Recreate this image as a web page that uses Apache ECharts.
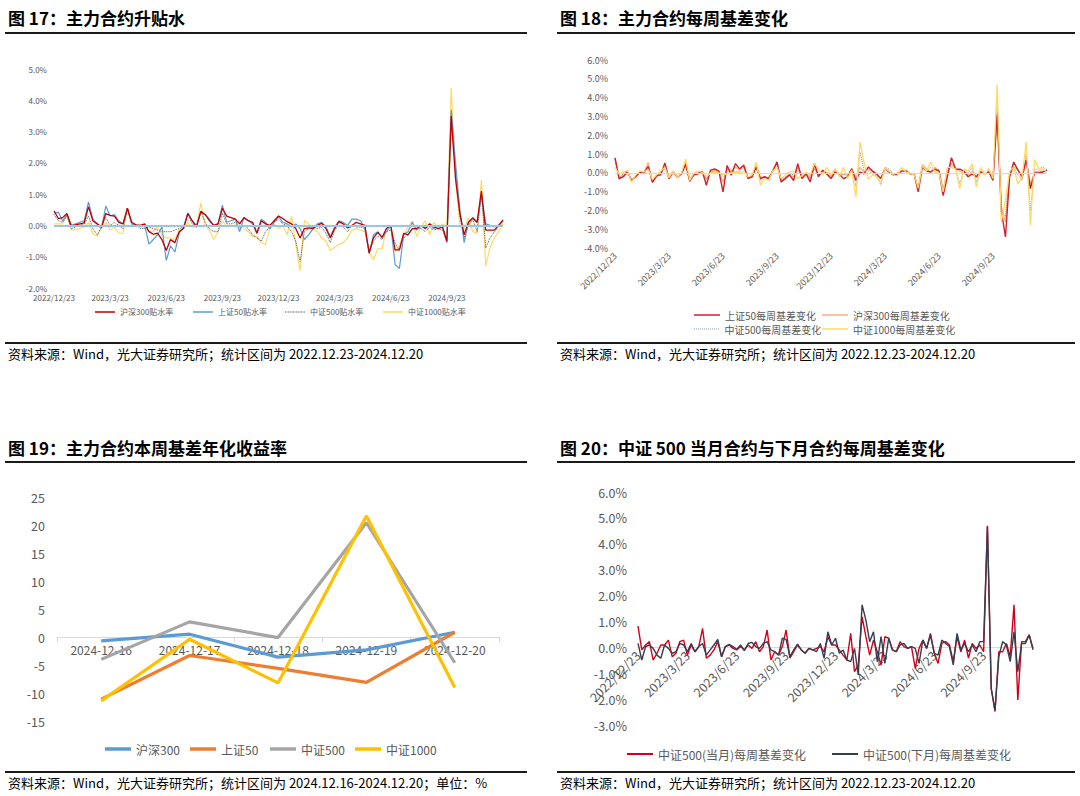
<!DOCTYPE html>
<html><head><meta charset="utf-8">
<script src="https://cdn.jsdelivr.net/npm/echarts@6/dist/echarts.min.js"></script>
<style>html,body{margin:0;padding:0;background:#fff}#c{width:1080px;height:796px}</style>
</head><body><div id="c"></div>
<script>
// ---------- categories ----------
const weeks = [];
for (let i = 0; i < 105; i++) {
  const d = new Date(Date.UTC(2022, 11, 23) + i * 7 * 86400000);
  weeks.push(d.getUTCFullYear() + '/' + (d.getUTCMonth() + 1) + '/' + d.getUTCDate());
}
const quarterTicks = ['2022/12/23','2023/3/23','2023/6/23','2023/9/23','2023/12/23','2024/3/23','2024/6/23','2024/9/23'];
const days19 = ['2024-12-16','2024-12-17','2024-12-18','2024-12-19','2024-12-20'];

// ---------- 图17 升贴水 (%) ----------
const prem_hs300 = [0.47,0.22,0.25,0.38,-0.02,0.02,0.05,0.08,0.60,0.15,
0.05,-0.05,0.38,0.32,0.30,0.10,0.05,0.55,0.10,0.02,
0.00,0.05,-0.20,-0.28,-0.25,-0.45,-0.80,-0.45,-0.55,-0.20,
-0.10,0.38,0.15,-0.05,0.45,0.35,0.15,0.00,0.05,0.55,
0.30,0.25,0.20,0.05,0.25,0.15,0.10,-0.25,0.15,0.05,
0.00,0.15,0.30,0.22,0.12,0.05,-0.10,-0.40,-0.10,-0.08,
-0.10,0.00,0.07,-0.10,-0.40,-0.10,0.12,0.05,-0.08,0.00,
0.10,0.05,0.00,-0.88,-0.40,-0.22,-0.38,-0.10,0.00,-0.78,
-0.78,-0.25,-0.30,-0.10,-0.10,0.00,-0.10,0.05,-0.05,-0.10,
-0.05,-0.50,3.50,1.50,0.40,-0.30,0.10,0.25,0.10,1.10,
-0.15,-0.15,-0.15,0.00,0.18];
const prem_sz50 = [0.40,0.42,0.15,0.35,0.00,0.05,0.10,0.15,0.75,0.20,
0.05,-0.10,0.62,0.30,0.35,0.15,0.05,0.55,0.05,0.00,
0.00,0.00,-0.60,-0.45,-0.30,-0.05,-1.12,-0.65,-0.85,-0.25,
-0.05,0.40,0.15,0.00,0.40,0.35,0.20,0.00,0.05,0.65,
0.10,0.15,0.20,-0.20,0.25,0.15,0.05,-0.25,0.20,0.10,
-0.10,0.10,0.30,0.10,0.05,-0.05,0.05,-0.10,-0.45,-0.30,
-0.10,0.05,0.10,-0.05,-0.35,-0.05,0.15,0.10,0.00,0.20,
0.20,0.15,-0.10,-0.90,-0.30,-0.20,-0.40,-0.20,0.00,-1.25,
-1.38,-0.30,-0.20,0.10,-0.15,0.00,-0.10,0.05,-0.10,0.00,
-0.05,-0.55,3.70,2.00,0.50,-0.55,0.10,0.20,0.10,0.95,
0.05,0.00,-0.05,0.00,0.15];
const prem_zz500 = [0.35,0.15,0.10,0.30,-0.10,-0.05,0.00,0.05,0.30,-0.10,
-0.30,-0.05,0.25,0.00,0.10,0.00,-0.10,0.55,0.05,0.00,
-0.10,-0.10,-0.05,-0.10,-0.15,-0.20,-0.20,-0.20,-0.15,-0.10,
-0.05,0.35,0.05,-0.05,0.45,0.10,-0.10,-0.20,-0.20,0.40,
0.05,0.05,0.10,-0.10,0.00,-0.10,-0.30,-0.40,-0.50,-0.20,
-0.05,0.10,0.20,0.05,0.00,-0.20,-0.50,-1.15,-0.20,-0.10,
-0.05,-0.10,-0.05,-0.25,-0.55,-0.15,0.00,-0.05,-0.20,0.00,
-0.05,-0.05,-0.10,-0.85,-0.50,-0.35,-0.45,-0.20,-0.15,-0.55,
-0.80,-0.40,-0.30,-0.10,-0.10,-0.10,-0.20,-0.05,-0.15,-0.10,
-0.15,-0.55,3.30,1.80,0.30,-0.40,0.00,0.20,-0.20,1.00,
-0.72,-0.40,-0.20,-0.05,0.10];
const prem_zz1000 = [0.05,0.05,0.05,0.35,-0.15,-0.12,-0.10,-0.05,0.10,-0.25,
-0.35,-0.05,0.10,-0.15,-0.05,-0.25,-0.25,0.55,0.05,0.00,
-0.05,-0.05,-0.20,-0.20,-0.05,-0.30,-0.40,-0.40,-0.45,-0.15,
-0.10,0.10,-0.05,-0.05,0.72,0.00,-0.15,-0.45,-0.20,0.15,
-0.05,0.00,0.00,0.15,-0.10,-0.20,-0.35,-0.35,-0.55,-0.60,
-0.10,0.05,-0.10,0.00,-0.30,0.30,-0.60,-1.45,0.15,0.05,
-0.10,-0.20,-0.40,-0.50,-0.80,-0.70,-0.60,-0.55,-0.40,-0.15,
-0.10,-0.15,-0.20,-0.85,-1.10,-0.75,-0.75,-0.10,0.00,-0.85,
-0.65,-0.30,-0.05,0.15,-0.35,-0.05,0.15,-0.30,0.10,-0.10,
0.05,-0.05,4.40,1.50,0.00,-0.10,0.25,-0.20,-0.25,1.45,
-1.30,-0.70,-0.40,-0.20,0.05];

// ---------- 图18 每周基差变化 (%) ----------
const chg_sz50 = [0.80,-0.30,-0.20,0.05,-0.40,-0.20,0.05,0.00,0.35,-0.50,
-0.15,-0.10,0.53,-0.30,0.05,-0.20,-0.05,0.45,-0.45,-0.10,
-0.05,0.10,-0.65,0.15,0.22,0.10,-1.00,0.40,-0.12,0.50,
0.22,0.40,-0.30,-0.20,0.30,-0.30,-0.20,-0.30,0.10,0.58,
-0.48,-0.30,-0.10,-0.40,0.50,-0.30,-0.05,-0.48,0.50,-0.20,
0.15,-0.05,-0.30,0.05,-0.05,-0.30,-0.20,0.23,-0.40,0.05,
-0.05,0.32,0.10,-0.05,-0.30,0.23,0.05,-0.10,-0.05,0.10,
0.10,-0.05,-0.05,-1.00,0.32,0.10,0.05,0.20,0.10,-1.20,
-0.20,0.81,0.20,0.20,0.10,-0.20,-0.05,-0.20,0.05,-0.05,
0.05,-0.40,3.10,-2.00,-3.40,-0.20,0.58,0.15,-0.20,0.70,
-0.83,0.00,0.00,0.05,0.15];
const chg_hs300 = [0.80,-0.25,-0.10,0.10,-0.45,-0.15,0.05,0.05,0.55,-0.50,
-0.20,0.00,0.35,-0.30,0.10,-0.25,-0.05,0.55,-0.40,-0.05,
0.00,0.05,-0.35,0.10,0.15,0.10,-0.50,0.25,0.10,0.30,
0.15,0.45,-0.25,-0.20,0.45,-0.20,-0.25,-0.25,0.15,0.60,
-0.40,-0.25,-0.10,-0.20,0.30,-0.20,-0.05,-0.30,0.30,-0.10,
0.10,0.00,-0.20,0.10,-0.05,-0.10,-0.10,0.15,-0.30,0.30,
0.05,0.20,0.05,-0.10,-0.30,0.25,0.05,-0.10,0.00,0.10,
0.15,0.00,-0.10,-0.80,0.45,0.20,0.05,0.30,0.10,-0.90,
0.00,0.50,0.20,0.10,0.00,-0.10,0.10,-0.20,0.10,-0.10,
0.10,-0.30,3.30,-1.80,-2.60,-0.10,0.30,0.20,-0.30,0.70,
-0.60,0.05,0.10,0.10,0.10];
const chg_zz500 = [0.70,-0.35,0.00,0.10,-0.35,-0.10,0.10,0.00,0.30,-0.40,
-0.15,0.10,0.20,-0.25,0.10,-0.20,0.00,0.50,-0.35,0.00,
0.10,0.00,-0.30,0.05,0.10,0.05,-0.20,0.10,0.05,0.10,
0.05,0.30,-0.20,-0.10,0.30,-0.35,-0.20,-0.30,0.15,0.50,
-0.35,-0.20,-0.05,-0.10,0.10,-0.15,-0.05,-0.20,0.20,-0.10,
0.05,0.05,-0.15,0.15,-0.10,-0.05,-0.15,0.20,-0.70,1.10,
0.10,0.10,-0.05,-0.15,-0.65,0.30,0.20,0.00,-0.10,0.25,
0.10,0.00,-0.05,-0.75,0.35,0.15,0.30,0.10,0.20,-0.90,
0.20,0.30,0.20,-0.55,0.10,0.00,0.30,-0.45,0.10,-0.05,
0.15,-0.20,3.60,-2.00,-2.30,0.00,0.30,-0.10,-0.40,1.00,
-2.00,0.20,0.20,0.32,0.15];
const chg_zz1000 = [0.30,-0.05,0.05,0.15,-0.50,-0.10,0.10,0.05,0.20,-0.35,
-0.10,0.10,0.30,-0.25,0.10,-0.20,0.00,0.75,-0.40,0.00,
0.10,0.05,-0.20,0.00,0.05,0.00,-0.10,-0.05,0.00,0.05,
0.00,0.10,-0.20,-0.10,0.58,-0.65,-0.30,-0.40,0.10,0.30,
-0.30,-0.10,0.05,0.10,-0.30,-0.15,0.05,-0.10,0.50,0.20,
-0.10,0.30,-0.10,0.25,-0.20,0.30,-0.30,0.15,-1.27,1.65,
0.50,-0.35,-0.10,-0.20,-0.50,0.25,0.10,-0.10,-0.15,0.30,
0.05,0.00,-0.10,-0.80,0.40,0.10,0.58,0.05,0.00,-1.00,
0.30,0.30,0.20,-0.83,0.20,0.10,0.50,-0.75,0.30,-0.10,
0.25,-0.30,4.70,-2.60,-1.45,0.10,0.30,-0.60,-0.20,1.65,
-2.78,0.70,0.25,0.20,0.05];

// ---------- 图19 本周基差年化收益率 (%) ----------
const ann_hs300 = [-0.7, 0.5, -3.6, -2.3, 0.85];
const ann_sz50 = [-11.1, -3.3, -5.6, -8.1, 0.85];
const ann_zz500 = [-4.0, 2.7, -0.1, 20.4, -4.6];
const ann_zz1000 = [-11.4, -0.4, -8.2, 21.6, -9.0];

// ---------- 图20 中证500 当月/下月 每周基差变化 (%) ----------
const zz500_cur = [0.82,-0.10,0.09,0.22,-0.49,-0.23,0.09,0.09,0.28,-0.36,
-0.23,0.22,0.28,-0.30,0.09,-0.17,0.03,0.73,-0.42,-0.30,
-0.10,0.22,-0.36,0.03,0.09,-0.04,-0.10,0.03,-0.10,0.09,
-0.04,0.22,-0.17,0.03,0.67,-0.49,-0.17,-0.30,0.03,0.67,
-0.42,-0.17,0.09,-0.10,-0.23,-0.04,-0.10,-0.04,0.03,-0.17,
0.41,0.09,0.09,-0.10,-0.30,-0.49,0.54,-0.94,-0.68,1.18,
0.41,-0.30,0.28,-0.17,-0.68,0.41,0.35,-0.10,-0.17,0.22,
0.03,-0.04,0.03,-0.81,-0.04,0.28,-0.04,0.54,-0.23,-0.62,
0.15,0.22,0.09,-0.55,0.41,-0.17,0.28,-0.42,0.15,-0.04,
0.09,-0.17,4.70,-1.59,-2.48,-0.17,-0.17,0.15,-0.36,1.64,
-2.03,0.22,0.22,0.48,-0.04];
const zz500_next = [0.15,-0.49,0.03,0.09,-0.04,-0.30,-0.42,0.09,-0.04,-0.23,
-0.17,0.15,0.09,-0.17,0.15,-0.17,0.03,0.15,-0.30,-0.10,
0.09,0.31,-0.36,0.03,0.12,0.03,-0.08,0.09,-0.13,0.15,
0.19,0.03,-0.04,0.15,0.22,-0.10,-0.17,-0.30,0.35,0.31,
-0.36,-0.10,0.12,-0.10,-0.23,-0.04,-0.10,-0.17,0.15,-0.42,
0.60,0.09,0.35,-0.23,-0.10,-0.49,-0.55,-0.04,-1.07,1.64,
1.05,0.22,0.60,-0.55,0.41,-0.62,0.35,-0.10,-0.17,0.09,
0.15,-0.04,0.03,-0.04,-0.62,0.28,-0.04,0.48,-0.23,-0.30,
0.28,0.15,0.03,-0.68,0.54,-0.10,0.15,-0.17,0.09,-0.17,
0.22,0.22,4.66,-1.59,-2.43,-0.36,0.22,0.09,-0.55,0.60,
-0.94,0.15,0.15,0.48,-0.10];

// ---------- chart ----------
const FONT = '"Noto Sans CJK SC","Noto Sans",sans-serif';
const LBL = '#595959';
const chart = echarts.init(document.getElementById('c'), null, {renderer: 'svg', width: 1080, height: 796});

const qFmt = (v, idx) => (idx % 13 === 0 ? (quarterTicks[idx / 13] || '') : '');
const pctFmt = v => v.toFixed(1) + '%';
const DOTS = 'path://M0 0h1v1H0zM2 0h1v1H2zM4 0h1v1H4zM6 0h1v1H6zM8 0h1v1H8zM10 0h1v1H10zM12 0h1v1H12zM14 0h1v1H14zM16 0h1v1H16zM18 0h1v1H18zM20 0h1v1H20zM22 0h1v1H22zM24 0h1v1H24z';

function weekAxis(gi, fs, rotate, offset, showLine) {
  return {
    type: 'category', gridIndex: gi, data: weeks, boundaryGap: false, offset: offset || 0,
    axisLine: {show: !!showLine, onZero: false, lineStyle: {color: '#D9D9D9'}},
    axisTick: {show: false},
    axisLabel: {interval: 12, formatter: qFmt, fontSize: fs, color: LBL, fontFamily: FONT, rotate: rotate, margin: rotate ? 6 : 5},
    splitLine: {show: false}
  };
}
function valAxis(gi, min, max, interval, fs, fmt, margin) {
  return {
    type: 'value', gridIndex: gi, min, max, interval,
    axisLine: {show: false}, axisTick: {show: false}, splitLine: {show: false},
    axisLabel: {fontSize: fs, color: LBL, fontFamily: FONT, formatter: fmt, margin}
  };
}
function ln(name, data, xi, color, width, type, extra) {
  return Object.assign({
    name, type: 'line', data, xAxisIndex: xi, yAxisIndex: xi,
    symbol: 'none', showSymbol: false, animation: false,
    lineStyle: {color, width, type: type || 'solid'}, itemStyle: {color}
  }, extra || {});
}
function lg(name, left, top, fs, w, h, icon) {
  return {data: [{name, icon: icon || 'rect'}], left, top, padding: 0, itemWidth: w, itemHeight: h, itemGap: 0,
    selectedMode: false, textStyle: {fontSize: fs, color: LBL, fontFamily: FONT}};
}

const zeroLine = (color, width) => ({silent: true, symbol: 'none', label: {show: false},
  lineStyle: {color, width, type: 'solid'}, data: [{yAxis: 0}], animation: false});

const option = {
  backgroundColor: '#fff',
  animation: false,
  textStyle: {fontFamily: FONT},
  grid: [
    {left: 54, top: 69, width: 449, height: 219},
    {left: 615, top: 60, width: 432, height: 188.3},
    {left: 57, top: 497, width: 442, height: 224},
    {left: 638, top: 492, width: 395, height: 233}
  ],
  xAxis: [
    weekAxis(0, 8, 0, 0, false),
    weekAxis(1, 9, 45, 0, false),
    {type: 'category', gridIndex: 2, data: days19, boundaryGap: true, offset: -84,
      axisLine: {show: true, onZero: false, lineStyle: {color: '#D9D9D9'}},
      axisTick: {show: true, length: 5, lineStyle: {color: '#D9D9D9'}},
      axisLabel: {fontSize: 12, color: LBL, fontFamily: FONT, margin: 6}},
    weekAxis(3, 12.5, 45, -77.7, true)
  ],
  yAxis: [
    valAxis(0, -2, 5, 1, 8, pctFmt, 7),
    valAxis(1, -4, 6, 1, 9, pctFmt, 7),
    valAxis(2, -15, 25, 5, 12.5, v => String(v), 12),
    valAxis(3, -3, 6, 1, 12.5, pctFmt, 11)
  ],
  legend: [
    lg('沪深300贴水率', 95, 308, 8, 20, 1.5),
    lg('上证50贴水率', 193, 308, 8, 20, 1.5),
    lg('中证500贴水率', 285, 308, 8, 20, 1, DOTS),
    lg('中证1000贴水率', 383, 308, 8, 20, 1.5),
    lg('上证50每周基差变化', 694, 310, 10, 26, 1.5),
    lg('沪深300每周基差变化', 822, 310, 10, 26, 1.5),
    lg('中证500每周基差变化', 694, 324, 10, 26, 1, DOTS),
    lg('中证1000每周基差变化', 822, 324, 10, 26, 1.5),
    lg('沪深300', 105, 743, 12, 26, 3.5),
    lg('上证50', 190, 743, 12, 26, 3.5),
    lg('中证500', 270, 743, 12, 26, 3.5),
    lg('中证1000', 355, 743, 12, 26, 3.5),
    lg('中证500(当月)每周基差变化', 627, 748, 12, 26, 2),
    lg('中证500(下月)每周基差变化', 832, 748, 12, 26, 2)
  ],
  series: [
    // 图17
    ln('中证1000贴水率', prem_zz1000, 0, '#FFD966', 1.2, 'solid', {markLine: zeroLine('#9DC3E6', 2)}),
    ln('中证500贴水率', prem_zz500, 0, '#404040', 0.9, 'dotted'),
    ln('上证50贴水率', prem_sz50, 0, '#5B9BD5', 1.2),
    ln('沪深300贴水率', prem_hs300, 0, '#C00000', 1.3),
    // 图18
    ln('沪深300每周基差变化', chg_hs300, 1, '#F4B183', 1.3, 'solid', {markLine: zeroLine('#D9D9D9', 1)}),
    ln('中证500每周基差变化', chg_zz500, 1, '#8497B0', 1, 'dotted'),
    ln('上证50每周基差变化', chg_sz50, 1, '#D0202E', 1.4),
    ln('中证1000每周基差变化', chg_zz1000, 1, '#FFD966', 1.3),
    // 图19
    ln('沪深300', ann_hs300, 2, '#5B9BD5', 3.2),
    ln('上证50', ann_sz50, 2, '#ED7D31', 3.2),
    ln('中证500', ann_zz500, 2, '#A5A5A5', 3.2),
    ln('中证1000', ann_zz1000, 2, '#FFC000', 3.2),
    // 图20
    ln('中证500(当月)每周基差变化', zz500_cur, 3, '#D0021B', 1.4),
    ln('中证500(下月)每周基差变化', zz500_next, 3, '#333F50', 1.4)
  ],
  graphic: [
    {type: 'text', x: 8, y: 17, style: {text: '图 17：主力合约升贴水', font: 'bold 17px ' + FONT, fill: '#000', verticalAlign: 'middle'}},
    {type: 'text', x: 560, y: 17, style: {text: '图 18：主力合约每周基差变化', font: 'bold 17px ' + FONT, fill: '#000', verticalAlign: 'middle'}},
    {type: 'text', x: 8, y: 447, style: {text: '图 19：主力合约本周基差年化收益率', font: 'bold 17px ' + FONT, fill: '#000', verticalAlign: 'middle'}},
    {type: 'text', x: 560, y: 447, style: {text: '图 20：中证 500 当月合约与下月合约每周基差变化', font: 'bold 17px ' + FONT, fill: '#000', verticalAlign: 'middle'}},
    {type: 'line', shape: {x1: 5, y1: 33, x2: 527, y2: 33}, style: {stroke: '#1a1a1a', lineWidth: 2}},
    {type: 'line', shape: {x1: 557, y1: 33, x2: 1075, y2: 33}, style: {stroke: '#1a1a1a', lineWidth: 2}},
    {type: 'line', shape: {x1: 5, y1: 343, x2: 527, y2: 343}, style: {stroke: '#1a1a1a', lineWidth: 2}},
    {type: 'line', shape: {x1: 557, y1: 343, x2: 1075, y2: 343}, style: {stroke: '#1a1a1a', lineWidth: 2}},
    {type: 'line', shape: {x1: 5, y1: 462, x2: 527, y2: 462}, style: {stroke: '#1a1a1a', lineWidth: 2}},
    {type: 'line', shape: {x1: 557, y1: 462, x2: 1075, y2: 462}, style: {stroke: '#1a1a1a', lineWidth: 2}},
    {type: 'line', shape: {x1: 5, y1: 772, x2: 527, y2: 772}, style: {stroke: '#1a1a1a', lineWidth: 2}},
    {type: 'line', shape: {x1: 557, y1: 772, x2: 1075, y2: 772}, style: {stroke: '#1a1a1a', lineWidth: 2}},
    {type: 'text', x: 8, y: 353, style: {text: '资料来源：Wind，光大证券研究所；统计区间为 2022.12.23-2024.12.20', font: '13px ' + FONT, fill: '#000', verticalAlign: 'middle'}},
    {type: 'text', x: 560, y: 353, style: {text: '资料来源：Wind，光大证券研究所；统计区间为 2022.12.23-2024.12.20', font: '13px ' + FONT, fill: '#000', verticalAlign: 'middle'}},
    {type: 'text', x: 8, y: 782, style: {text: '资料来源：Wind，光大证券研究所；统计区间为 2024.12.16-2024.12.20；单位：%', font: '13px ' + FONT, fill: '#000', verticalAlign: 'middle'}},
    {type: 'text', x: 560, y: 782, style: {text: '资料来源：Wind，光大证券研究所；统计区间为 2022.12.23-2024.12.20', font: '13px ' + FONT, fill: '#000', verticalAlign: 'middle'}}
  ]
};
chart.setOption(option);
</script>
</body></html>
